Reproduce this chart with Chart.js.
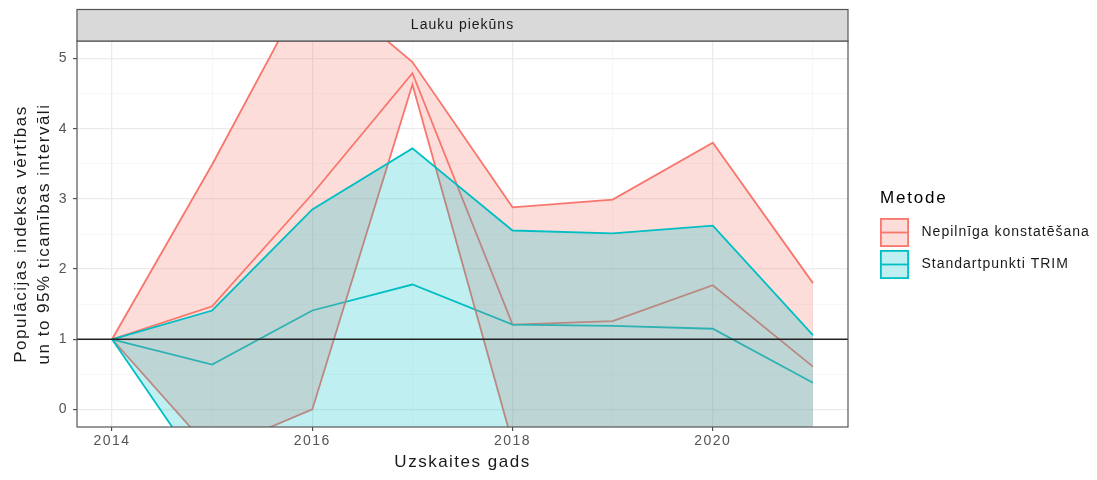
<!DOCTYPE html>
<html>
<head>
<meta charset="utf-8">
<script src="https://cdn.jsdelivr.net/npm/chart.js@4.4.1/dist/chart.umd.min.js"></script>
<style>
html,body{margin:0;padding:0;background:#ffffff;}
#wrap{width:1097px;height:480px;position:relative;}
</style>
</head>
<body>
<div id="wrap"><canvas id="c" width="1097" height="480"></canvas></div>
<script>
// ---------- data ----------
const years = [2014, 2015, 2016, 2017, 2018, 2019, 2020, 2021];

// Nepilnīga konstatēšana
const redMid   = [1, 1.47, 3.07, 4.79, 1.21, 1.26, 1.77, 0.61];
const redUpper = [1, 3.49, 6.15, 4.95, 2.88, 2.99, 3.80, 1.80];
const redLower = [1, -0.60, 0.00, 4.63, -0.48, -0.60, -0.50, -0.70];

// Standartpunkti TRIM
const tealMid   = [1, 0.64, 1.41, 1.78, 1.21, 1.19, 1.15, 0.38];
const tealUpper = [1, 1.41, 2.85, 3.72, 2.55, 2.51, 2.62, 1.06];
const tealLower = [1, -1.08, -0.90, -0.60, -0.90, -0.90, -0.95, -1.30];

const seriesNames = ['Nepilnīga konstatēšana', 'Standartpunkti TRIM'];
const legendTitle = 'Metode';
const facetTitle = 'Lauku piekūns';
const xTitle = 'Uzskaites gads';
const yTitle = ['Populācijas indeksa vērtības', 'un to 95% ticamības intervāli'];

const xMajor = [2014, 2016, 2018, 2020];
const xMinor = [2015, 2017, 2019, 2021];
const yMajor = [0, 1, 2, 3, 4, 5];
const yMinor = [0.5, 1.5, 2.5, 3.5, 4.5];
const referenceValue = 1;

const X_MIN = 2013.65, X_MAX = 2021.35;
const Y_MIN = -0.25, Y_MAX = 5.25;

// ---------- styling ----------
const FONT = '"Liberation Sans", Arial, Helvetica, sans-serif';
const RED = '#F8766D', TEAL = '#00BFC4';
const RED_FILL = 'rgba(248,118,109,0.25)';
const TEAL_FILL = 'rgba(0,191,196,0.25)';

function pts(arr) { return years.map((yr, i) => ({x: yr, y: arr[i]})); }

const isMajorX = v => xMajor.includes(v);
const isMajorY = v => yMajor.includes(v);

const decorPlugin = {
  id: 'decor',
  beforeDraw(chart) {
    chart.ctx.letterSpacing = '1.5px';
  },
  afterDatasetsDraw(chart) {
    const {ctx, chartArea: a, scales} = chart;
    const y = scales.y.getPixelForValue(referenceValue);
    ctx.save();
    ctx.beginPath();
    ctx.rect(a.left, a.top, a.right - a.left, a.bottom - a.top);
    ctx.clip();
    ctx.strokeStyle = '#222222';
    ctx.lineWidth = 1.7;
    ctx.beginPath();
    ctx.moveTo(a.left, y);
    ctx.lineTo(a.right, y);
    ctx.stroke();
    ctx.restore();
  },
  afterDraw(chart) {
    const {ctx, chartArea: a} = chart;
    ctx.save();
    // panel border
    ctx.strokeStyle = '#555555';
    ctx.lineWidth = 1.2;
    ctx.strokeRect(a.left, a.top, a.right - a.left, a.bottom - a.top);
    // strip
    const sTop = 9.5;
    ctx.fillStyle = '#D9D9D9';
    ctx.fillRect(a.left, sTop, a.right - a.left, a.top - sTop);
    ctx.strokeRect(a.left, sTop, a.right - a.left, a.top - sTop);
    ctx.fillStyle = '#1A1A1A';
    ctx.font = '14px ' + FONT;
    ctx.letterSpacing = '1px';
    ctx.textAlign = 'center';
    ctx.textBaseline = 'middle';
    ctx.fillText(facetTitle, (a.left + a.right) / 2, (sTop + a.top) / 2);

    // legend
    const lx = 880;
    ctx.textAlign = 'left';
    ctx.font = '17px ' + FONT;
    ctx.letterSpacing = '1.8px';
    ctx.fillStyle = '#000000';
    ctx.fillText(legendTitle, lx, 198.5);
    const keys = [
      {line: RED, fill: RED_FILL, label: seriesNames[0], top: 218},
      {line: TEAL, fill: TEAL_FILL, label: seriesNames[1], top: 250}
    ];
    ctx.font = '14px ' + FONT;
    ctx.letterSpacing = '1px';
    keys.forEach(k => {
      const size = 29;
      ctx.fillStyle = '#ffffff';
      ctx.fillRect(lx, k.top, size, size);
      ctx.fillStyle = k.fill;
      ctx.fillRect(lx, k.top, size, size);
      ctx.strokeStyle = k.line;
      ctx.lineWidth = 1.8;
      ctx.strokeRect(lx + 0.9, k.top + 0.9, size - 1.8, size - 1.8);
      ctx.beginPath();
      ctx.moveTo(lx + 1, k.top + size / 2);
      ctx.lineTo(lx + size - 1, k.top + size / 2);
      ctx.stroke();
      ctx.fillStyle = '#1A1A1A';
      ctx.fillText(k.label, 921.5, k.top + size / 2);
    });
    ctx.restore();
  }
};

const gridCommon = {
  drawOnChartArea: true,
  drawTicks: true,
  tickLength: 4,
  tickWidth: 1
};

new Chart(document.getElementById('c'), {
  type: 'line',
  data: {
    datasets: [
      {label: 'tealLower', data: pts(tealLower), borderColor: TEAL, fill: false, order: 1},
      {label: 'tealUpper', data: pts(tealUpper), borderColor: TEAL, backgroundColor: TEAL_FILL, fill: '-1', order: 2},
      {label: 'redLower', data: pts(redLower), borderColor: RED, fill: false, order: 3},
      {label: 'redUpper', data: pts(redUpper), borderColor: RED, backgroundColor: RED_FILL, fill: '-1', order: 4},
      {label: 'tealMid', data: pts(tealMid), borderColor: TEAL, fill: false, order: 5},
      {label: 'redMid', data: pts(redMid), borderColor: RED, fill: false, order: 6}
    ]
  },
  options: {
    responsive: false,
    animation: false,
    devicePixelRatio: 1,
    events: [],
    layout: {padding: {left: 0, top: 41, right: 249, bottom: 0}},
    elements: {
      line: {borderWidth: 1.8, tension: 0},
      point: {radius: 0, hoverRadius: 0}
    },
    plugins: {legend: {display: false}, tooltip: {enabled: false}},
    scales: {
      x: {
        type: 'linear',
        min: X_MIN,
        max: X_MAX,
        afterBuildTicks: axis => {
          axis.ticks = [...xMajor, ...xMinor].sort((p, q) => p - q).map(v => ({value: v}));
        },
        afterFit: s => { s.height = 53; },
        ticks: {
          autoSkip: false,
          maxRotation: 0,
          padding: 2,
          color: '#555555',
          font: {family: FONT, size: 14},
          callback: v => isMajorX(v) ? String(v) : ''
        },
        grid: Object.assign({}, gridCommon, {
          color: c => isMajorX(c.tick.value) ? '#EBEBEB' : '#F3F3F3',
          lineWidth: c => isMajorX(c.tick.value) ? 1.3 : 0.7,
          tickColor: c => isMajorX(c.tick.value) ? '#333333' : 'rgba(0,0,0,0)'
        }),
        border: {display: false},
        title: {
          display: true,
          text: xTitle,
          color: '#1A1A1A',
          font: {family: FONT, size: 17, lineHeight: 1.33},
          padding: {top: 0, bottom: 6}
        }
      },
      y: {
        type: 'linear',
        min: Y_MIN,
        max: Y_MAX,
        afterBuildTicks: axis => {
          axis.ticks = [...yMajor, ...yMinor].sort((p, q) => p - q).map(v => ({value: v}));
        },
        afterFit: s => { s.width = 77; },
        ticks: {
          padding: 5,
          color: '#555555',
          font: {family: FONT, size: 14},
          callback: v => isMajorY(v) ? String(v) : ''
        },
        grid: Object.assign({}, gridCommon, {
          color: c => isMajorY(c.tick.value) ? '#EBEBEB' : '#F3F3F3',
          lineWidth: c => isMajorY(c.tick.value) ? 1.3 : 0.7,
          tickColor: c => isMajorY(c.tick.value) ? '#333333' : 'rgba(0,0,0,0)'
        }),
        border: {display: false},
        title: {
          display: true,
          text: yTitle,
          color: '#1A1A1A',
          font: {family: FONT, size: 17, lineHeight: 1.33},
          padding: {top: 10, bottom: 0}
        }
      }
    }
  },
  plugins: [decorPlugin]
});
</script>
</body>
</html>
